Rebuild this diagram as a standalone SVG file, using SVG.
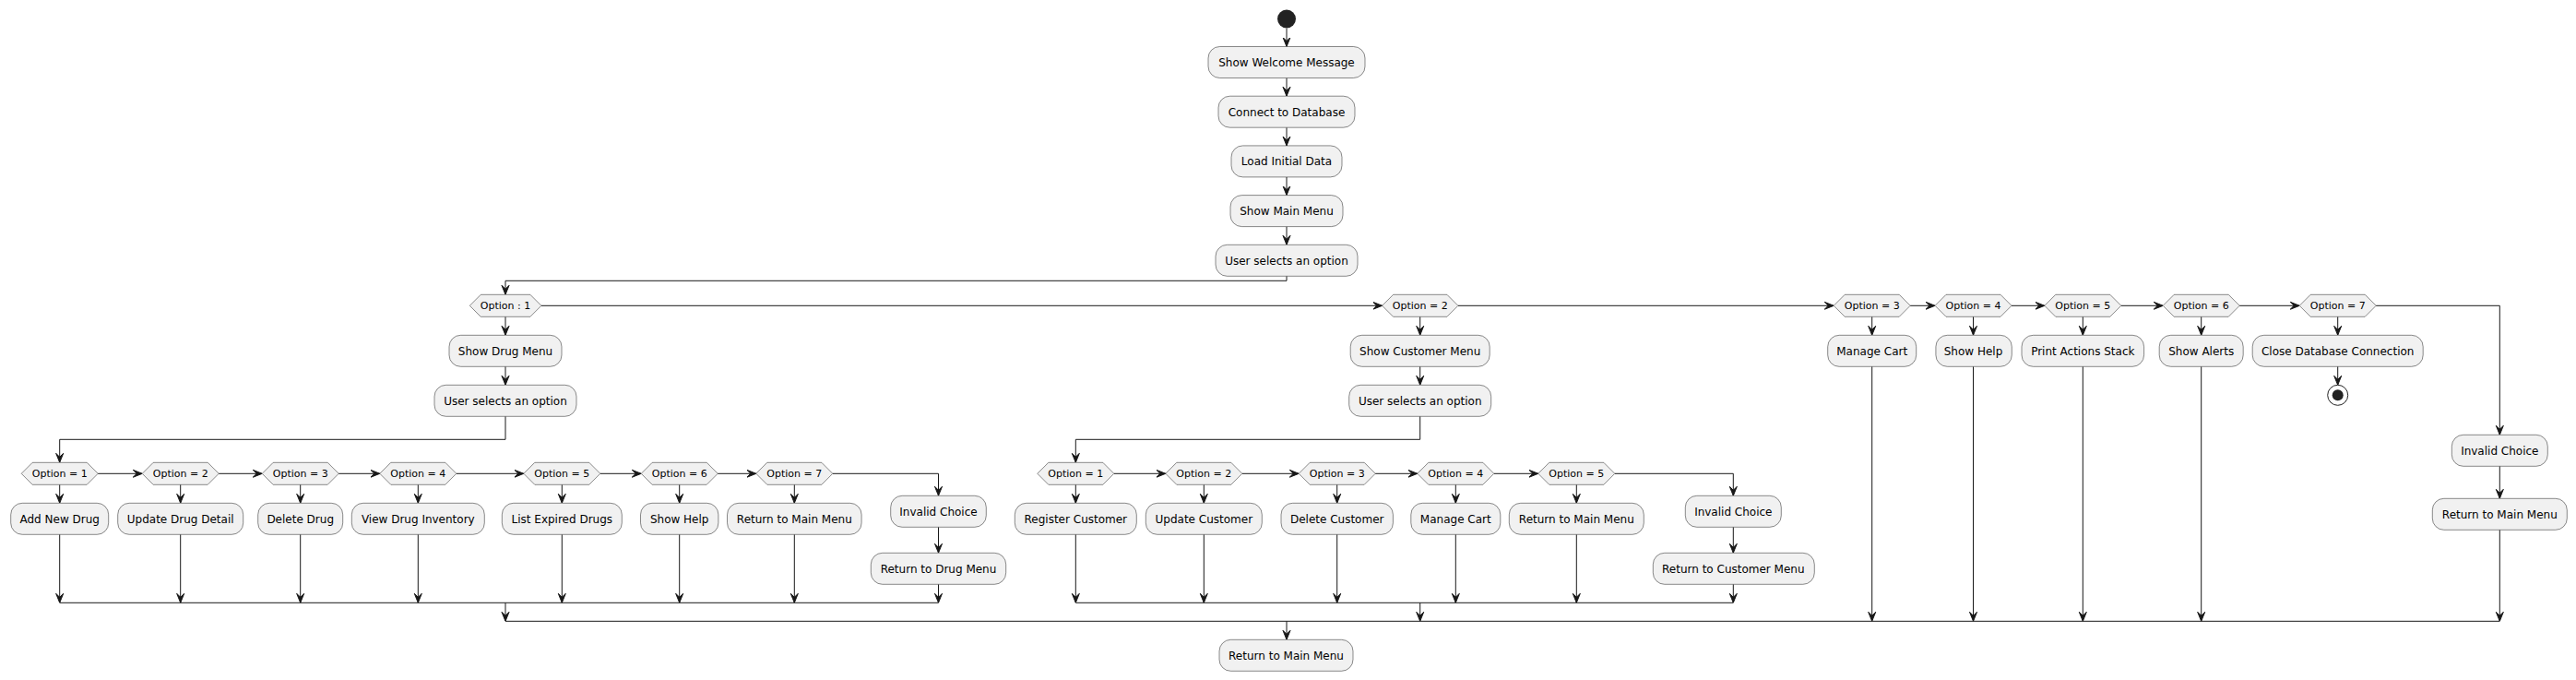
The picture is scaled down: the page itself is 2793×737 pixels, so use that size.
<svg xmlns="http://www.w3.org/2000/svg" width="2793" height="737" viewBox="0 0 2793 737">
<style>
.b{fill:#F1F1F1;stroke:#181818;stroke-width:0.5}
.h{fill:#F1F1F1;stroke:#181818;stroke-width:0.5}
.t{font-family:"DejaVu Sans",sans-serif;font-size:12px;fill:#000;text-anchor:middle}
.s{font-family:"DejaVu Sans",sans-serif;font-size:11px;fill:#000;text-anchor:middle}
.c path{fill:none;stroke:#181818;stroke-width:1}
</style>
<defs>
<marker id="a" viewBox="0 0 10 10" markerWidth="10" markerHeight="10" refX="10" refY="5" orient="auto" markerUnits="userSpaceOnUse">
<path d="M0,1 L10,5 L0,9 L4,5 Z" fill="#181818" stroke="#181818" stroke-width="1"/>
</marker>
</defs>
<rect width="2793" height="737" fill="#FFFFFF"/>

<g class="c" id="connectors">
<path d="M1395,30.7 V50.5" marker-end="url(#a)"/>
<path d="M1395,84.5 V104.2" marker-end="url(#a)"/>
<path d="M1395,138.2 V157.9" marker-end="url(#a)"/>
<path d="M1395,191.9 V211.6" marker-end="url(#a)"/>
<path d="M1395,245.6 V265.3" marker-end="url(#a)"/>
<path d="M1395,299.3 V304.3 H548 V319.3" marker-end="url(#a)"/>
<path d="M586.9,331.3 H1498.6" marker-end="url(#a)"/>
<path d="M1580.9,331.3 H1988.2" marker-end="url(#a)"/>
<path d="M2071.2,331.3 H2098" marker-end="url(#a)"/>
<path d="M2181,331.3 H2216.8" marker-end="url(#a)"/>
<path d="M2299.8,331.3 H2345.2" marker-end="url(#a)"/>
<path d="M2428.2,331.3 H2493.2" marker-end="url(#a)"/>
<path d="M2576.2,331.3 H2710.3 V471.3" marker-end="url(#a)"/>
<path d="M548,343.3 V363.3" marker-end="url(#a)"/>
<path d="M548,397.3 V417.3" marker-end="url(#a)"/>
<path d="M548,451.3 V476.3 H64.7 V501.3" marker-end="url(#a)"/>
<path d="M1539.7,343.3 V363.3" marker-end="url(#a)"/>
<path d="M1539.7,397.3 V417.3" marker-end="url(#a)"/>
<path d="M1539.7,451.3 V476.3 H1166.3 V501.3" marker-end="url(#a)"/>
<path d="M2029.7,343.3 V363.3" marker-end="url(#a)"/>
<path d="M2029.7,397.3 V673.3" marker-end="url(#a)"/>
<path d="M2139.5,343.3 V363.3" marker-end="url(#a)"/>
<path d="M2139.5,397.3 V673.3" marker-end="url(#a)"/>
<path d="M2258.3,343.3 V363.3" marker-end="url(#a)"/>
<path d="M2258.3,397.3 V673.3" marker-end="url(#a)"/>
<path d="M2386.7,343.3 V363.3" marker-end="url(#a)"/>
<path d="M2386.7,397.3 V673.3" marker-end="url(#a)"/>
<path d="M2534.7,343.3 V363.3" marker-end="url(#a)"/>
<path d="M2534.7,397.3 V417.3" marker-end="url(#a)"/>
<path d="M2710.3,505.3 V540.3" marker-end="url(#a)"/>
<path d="M2710.3,574.3 V673.3" marker-end="url(#a)"/>
<!-- drug sub row -->
<path d="M106.2,513.3 H154.2" marker-end="url(#a)"/>
<path d="M237.2,513.3 H284.2" marker-end="url(#a)"/>
<path d="M367.2,513.3 H411.8" marker-end="url(#a)"/>
<path d="M494.8,513.3 H567.8" marker-end="url(#a)"/>
<path d="M650.8,513.3 H695.2" marker-end="url(#a)"/>
<path d="M778.2,513.3 H819.8" marker-end="url(#a)"/>
<path d="M902.8,513.3 H1017.5 V537.3" marker-end="url(#a)"/>
<path d="M64.7,525.3 V545.3" marker-end="url(#a)"/>
<path d="M64.7,579.3 V653.3" marker-end="url(#a)"/>
<path d="M195.7,525.3 V545.3" marker-end="url(#a)"/>
<path d="M195.7,579.3 V653.3" marker-end="url(#a)"/>
<path d="M325.7,525.3 V545.3" marker-end="url(#a)"/>
<path d="M325.7,579.3 V653.3" marker-end="url(#a)"/>
<path d="M453.3,525.3 V545.3" marker-end="url(#a)"/>
<path d="M453.3,579.3 V653.3" marker-end="url(#a)"/>
<path d="M609.3,525.3 V545.3" marker-end="url(#a)"/>
<path d="M609.3,579.3 V653.3" marker-end="url(#a)"/>
<path d="M736.7,525.3 V545.3" marker-end="url(#a)"/>
<path d="M736.7,579.3 V653.3" marker-end="url(#a)"/>
<path d="M861.3,525.3 V545.3" marker-end="url(#a)"/>
<path d="M861.3,579.3 V653.3" marker-end="url(#a)"/>
<path d="M1017.5,571.3 V599.3" marker-end="url(#a)"/>
<path d="M1017.5,633.3 V653.3" marker-end="url(#a)"/>
<path d="M64.7,653.3 H1017.5"/>
<path d="M548,653.3 V673.3" marker-end="url(#a)"/>
<!-- customer sub row -->
<path d="M1207.8,513.3 H1263.8" marker-end="url(#a)"/>
<path d="M1346.8,513.3 H1408.2" marker-end="url(#a)"/>
<path d="M1491.2,513.3 H1536.8" marker-end="url(#a)"/>
<path d="M1619.8,513.3 H1667.8" marker-end="url(#a)"/>
<path d="M1750.8,513.3 H1879.3 V537.3" marker-end="url(#a)"/>
<path d="M1166.3,525.3 V545.3" marker-end="url(#a)"/>
<path d="M1166.3,579.3 V653.3" marker-end="url(#a)"/>
<path d="M1305.3,525.3 V545.3" marker-end="url(#a)"/>
<path d="M1305.3,579.3 V653.3" marker-end="url(#a)"/>
<path d="M1449.7,525.3 V545.3" marker-end="url(#a)"/>
<path d="M1449.7,579.3 V653.3" marker-end="url(#a)"/>
<path d="M1578.3,525.3 V545.3" marker-end="url(#a)"/>
<path d="M1578.3,579.3 V653.3" marker-end="url(#a)"/>
<path d="M1709.3,525.3 V545.3" marker-end="url(#a)"/>
<path d="M1709.3,579.3 V653.3" marker-end="url(#a)"/>
<path d="M1879.3,571.3 V599.3" marker-end="url(#a)"/>
<path d="M1879.3,633.3 V653.3" marker-end="url(#a)"/>
<path d="M1166.3,653.3 H1879.3"/>
<path d="M1539.7,653.3 V673.3" marker-end="url(#a)"/>
<!-- main merge -->
<path d="M548,673.3 H2710.3"/>
<path d="M1395,673.3 V693.3" marker-end="url(#a)"/>
</g>

<g id="start"><circle cx="1395" cy="20.5" r="10" fill="#222222"/></g>
<g id="n_welcome"><rect class="b" x="1310" y="50.5" width="170" height="34" rx="12.5"/><text class="t" x="1395" y="71.9">Show Welcome Message</text></g>
<g id="n_connect"><rect class="b" x="1321" y="104.2" width="148" height="34" rx="12.5"/><text class="t" x="1395" y="125.6">Connect to Database</text></g>
<g id="n_load"><rect class="b" x="1335" y="157.9" width="120" height="34" rx="12.5"/><text class="t" x="1395" y="179.3">Load Initial Data</text></g>
<g id="n_mainmenu"><rect class="b" x="1334" y="211.6" width="122" height="34" rx="12.5"/><text class="t" x="1395" y="233">Show Main Menu</text></g>
<g id="n_select"><rect class="b" x="1318" y="265.3" width="154" height="34" rx="12.5"/><text class="t" x="1395" y="286.7">User selects an option</text></g>

<g id="d_opt1"><polygon class="h" points="509.3,331.3 521.3,319.3 574.9,319.3 586.9,331.3 574.9,343.3 521.3,343.3"/><text class="s" x="548" y="335.3">Option : 1</text></g>
<g id="n_drugmenu"><rect class="b" x="487" y="363.3" width="122" height="34" rx="12.5"/><text class="t" x="548" y="384.7">Show Drug Menu</text></g>
<g id="n_drugselect"><rect class="b" x="471" y="417.3" width="154" height="34" rx="12.5"/><text class="t" x="548" y="438.7">User selects an option</text></g>

<g id="d_d1"><polygon class="h" points="23.2,513.3 35.2,501.3 94.2,501.3 106.2,513.3 94.2,525.3 35.2,525.3"/><text class="s" x="64.7" y="517.3">Option = 1</text></g>
<g id="n_d1"><rect class="b" x="11.7" y="545.3" width="106" height="34" rx="12.5"/><text class="t" x="64.7" y="566.7">Add New Drug</text></g>
<g id="d_d2"><polygon class="h" points="154.2,513.3 166.2,501.3 225.2,501.3 237.2,513.3 225.2,525.3 166.2,525.3"/><text class="s" x="195.7" y="517.3">Option = 2</text></g>
<g id="n_d2"><rect class="b" x="127.7" y="545.3" width="136" height="34" rx="12.5"/><text class="t" x="195.7" y="566.7">Update Drug Detail</text></g>
<g id="d_d3"><polygon class="h" points="284.2,513.3 296.2,501.3 355.2,501.3 367.2,513.3 355.2,525.3 296.2,525.3"/><text class="s" x="325.7" y="517.3">Option = 3</text></g>
<g id="n_d3"><rect class="b" x="279.7" y="545.3" width="92" height="34" rx="12.5"/><text class="t" x="325.7" y="566.7">Delete Drug</text></g>
<g id="d_d4"><polygon class="h" points="411.8,513.3 423.8,501.3 482.8,501.3 494.8,513.3 482.8,525.3 423.8,525.3"/><text class="s" x="453.3" y="517.3">Option = 4</text></g>
<g id="n_d4"><rect class="b" x="381.3" y="545.3" width="144" height="34" rx="12.5"/><text class="t" x="453.3" y="566.7">View Drug Inventory</text></g>
<g id="d_d5"><polygon class="h" points="567.8,513.3 579.8,501.3 638.8,501.3 650.8,513.3 638.8,525.3 579.8,525.3"/><text class="s" x="609.3" y="517.3">Option = 5</text></g>
<g id="n_d5"><rect class="b" x="544.3" y="545.3" width="130" height="34" rx="12.5"/><text class="t" x="609.3" y="566.7">List Expired Drugs</text></g>
<g id="d_d6"><polygon class="h" points="695.2,513.3 707.2,501.3 766.2,501.3 778.2,513.3 766.2,525.3 707.2,525.3"/><text class="s" x="736.7" y="517.3">Option = 6</text></g>
<g id="n_d6"><rect class="b" x="694.5" y="545.3" width="84.4" height="34" rx="12.5"/><text class="t" x="736.7" y="566.7">Show Help</text></g>
<g id="d_d7"><polygon class="h" points="819.8,513.3 831.8,501.3 890.8,501.3 902.8,513.3 890.8,525.3 831.8,525.3"/><text class="s" x="861.3" y="517.3">Option = 7</text></g>
<g id="n_d7"><rect class="b" x="788.5" y="545.3" width="145.6" height="34" rx="12.5"/><text class="t" x="861.3" y="566.7">Return to Main Menu</text></g>
<g id="n_d_invalid"><rect class="b" x="965.7" y="537.3" width="103.6" height="34" rx="12.5"/><text class="t" x="1017.5" y="558.7">Invalid Choice</text></g>
<g id="n_d_return"><rect class="b" x="944.3" y="599.3" width="146.4" height="34" rx="12.5"/><text class="t" x="1017.5" y="620.7">Return to Drug Menu</text></g>

<g id="d_opt2"><polygon class="h" points="1498.6,331.3 1510.6,319.3 1568.9,319.3 1580.9,331.3 1568.9,343.3 1510.6,343.3"/><text class="s" x="1539.7" y="335.3">Option = 2</text></g>
<g id="n_custmenu"><rect class="b" x="1464.2" y="363.3" width="151" height="34" rx="12.5"/><text class="t" x="1539.7" y="384.7">Show Customer Menu</text></g>
<g id="n_custselect"><rect class="b" x="1462.7" y="417.3" width="154" height="34" rx="12.5"/><text class="t" x="1539.7" y="438.7">User selects an option</text></g>

<g id="d_c1"><polygon class="h" points="1124.8,513.3 1136.8,501.3 1195.8,501.3 1207.8,513.3 1195.8,525.3 1136.8,525.3"/><text class="s" x="1166.3" y="517.3">Option = 1</text></g>
<g id="n_c1"><rect class="b" x="1100.3" y="545.3" width="132" height="34" rx="12.5"/><text class="t" x="1166.3" y="566.7">Register Customer</text></g>
<g id="d_c2"><polygon class="h" points="1263.8,513.3 1275.8,501.3 1334.8,501.3 1346.8,513.3 1334.8,525.3 1275.8,525.3"/><text class="s" x="1305.3" y="517.3">Option = 2</text></g>
<g id="n_c2"><rect class="b" x="1242.3" y="545.3" width="126" height="34" rx="12.5"/><text class="t" x="1305.3" y="566.7">Update Customer</text></g>
<g id="d_c3"><polygon class="h" points="1408.2,513.3 1420.2,501.3 1479.2,501.3 1491.2,513.3 1479.2,525.3 1420.2,525.3"/><text class="s" x="1449.7" y="517.3">Option = 3</text></g>
<g id="n_c3"><rect class="b" x="1389" y="545.3" width="121.4" height="34" rx="12.5"/><text class="t" x="1449.7" y="566.7">Delete Customer</text></g>
<g id="d_c4"><polygon class="h" points="1536.8,513.3 1548.8,501.3 1607.8,501.3 1619.8,513.3 1607.8,525.3 1548.8,525.3"/><text class="s" x="1578.3" y="517.3">Option = 4</text></g>
<g id="n_c4"><rect class="b" x="1529.8" y="545.3" width="97" height="34" rx="12.5"/><text class="t" x="1578.3" y="566.7">Manage Cart</text></g>
<g id="d_c5"><polygon class="h" points="1667.8,513.3 1679.8,501.3 1738.8,501.3 1750.8,513.3 1738.8,525.3 1679.8,525.3"/><text class="s" x="1709.3" y="517.3">Option = 5</text></g>
<g id="n_c5"><rect class="b" x="1636.3" y="545.3" width="146" height="34" rx="12.5"/><text class="t" x="1709.3" y="566.7">Return to Main Menu</text></g>
<g id="n_c_invalid"><rect class="b" x="1827.3" y="537.3" width="104" height="34" rx="12.5"/><text class="t" x="1879.3" y="558.7">Invalid Choice</text></g>
<g id="n_c_return"><rect class="b" x="1792.3" y="599.3" width="175" height="34" rx="12.5"/><text class="t" x="1879.3" y="620.7">Return to Customer Menu</text></g>

<g id="d_opt3"><polygon class="h" points="1988.2,331.3 2000.2,319.3 2059.2,319.3 2071.2,331.3 2059.2,343.3 2000.2,343.3"/><text class="s" x="2029.7" y="335.3">Option = 3</text></g>
<g id="n_cart"><rect class="b" x="1981.7" y="363.3" width="96" height="34" rx="12.5"/><text class="t" x="2029.7" y="384.7">Manage Cart</text></g>
<g id="d_opt4"><polygon class="h" points="2098,331.3 2110,319.3 2169,319.3 2181,331.3 2169,343.3 2110,343.3"/><text class="s" x="2139.5" y="335.3">Option = 4</text></g>
<g id="n_help"><rect class="b" x="2098.9" y="363.3" width="82.4" height="34" rx="12.5"/><text class="t" x="2139.5" y="384.7">Show Help</text></g>
<g id="d_opt5"><polygon class="h" points="2216.8,331.3 2228.8,319.3 2287.8,319.3 2299.8,331.3 2287.8,343.3 2228.8,343.3"/><text class="s" x="2258.3" y="335.3">Option = 5</text></g>
<g id="n_print"><rect class="b" x="2192" y="363.3" width="132.6" height="34" rx="12.5"/><text class="t" x="2258.3" y="384.7">Print Actions Stack</text></g>
<g id="d_opt6"><polygon class="h" points="2345.2,331.3 2357.2,319.3 2416.2,319.3 2428.2,331.3 2416.2,343.3 2357.2,343.3"/><text class="s" x="2386.7" y="335.3">Option = 6</text></g>
<g id="n_alerts"><rect class="b" x="2341.2" y="363.3" width="91" height="34" rx="12.5"/><text class="t" x="2386.7" y="384.7">Show Alerts</text></g>
<g id="d_opt7"><polygon class="h" points="2493.2,331.3 2505.2,319.3 2564.2,319.3 2576.2,331.3 2564.2,343.3 2505.2,343.3"/><text class="s" x="2534.7" y="335.3">Option = 7</text></g>
<g id="n_close"><rect class="b" x="2442.2" y="363.3" width="185" height="34" rx="12.5"/><text class="t" x="2534.7" y="384.7">Close Database Connection</text></g>
<g id="stop"><circle cx="2534.7" cy="428.3" r="11" fill="none" stroke="#222222" stroke-width="1"/><circle cx="2534.7" cy="428.3" r="6" fill="#222222"/></g>
<g id="n_m_invalid"><rect class="b" x="2658.3" y="471.3" width="104" height="34" rx="12.5"/><text class="t" x="2710.3" y="492.7">Invalid Choice</text></g>
<g id="n_m_return"><rect class="b" x="2637.3" y="540.3" width="146" height="34" rx="12.5"/><text class="t" x="2710.3" y="561.7">Return to Main Menu</text></g>

<g id="n_final"><rect class="b" x="1322" y="693.3" width="145" height="34" rx="12.5"/><text class="t" x="1394.5" y="714.7">Return to Main Menu</text></g>
</svg>
